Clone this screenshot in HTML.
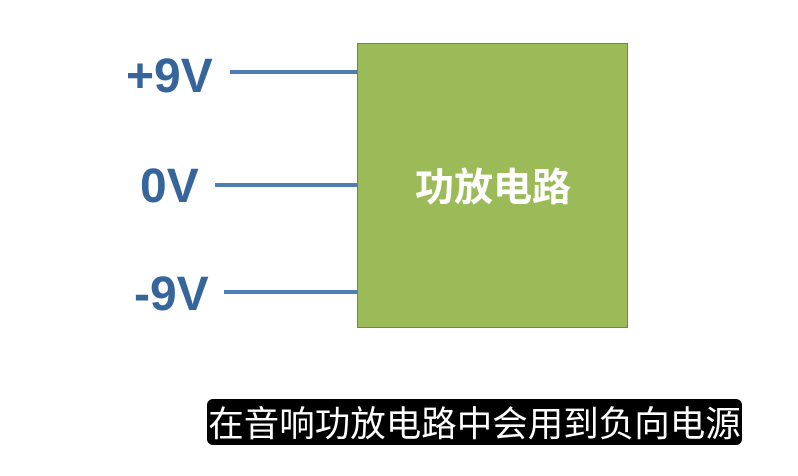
<!DOCTYPE html>
<html><head><meta charset="utf-8"><style>
body{margin:0;width:798px;height:476px;background:#fff;position:relative;overflow:hidden;font-family:"Liberation Sans","Noto Sans CJK SC",sans-serif}
.l{position:absolute;height:4px;background:#4f7db5}
.t{position:absolute;font-weight:bold;color:#36659b;font-size:48px;line-height:1}
</style></head><body>
<div style="position:absolute;left:357px;top:43px;width:269px;height:283px;background:#9bbb59;border:1.5px solid #6f8a3c"></div>
<div style="position:absolute;left:357px;top:160px;width:272px;text-align:center;color:#fff;font-weight:bold;font-size:39px;line-height:50px;font-family:'Noto Sans CJK SC',sans-serif">功放电路</div>
<div class="l" style="left:230px;top:70px;width:128px"></div>
<div class="l" style="left:215px;top:183px;width:143px"></div>
<div class="l" style="left:224px;top:290px;width:134px"></div>
<div class="t" style="left:126px;top:53px">+9V</div>
<div class="t" style="left:140px;top:163px">0V</div>
<div class="t" style="left:134px;top:271px">-9V</div>
<div style="position:absolute;left:207px;top:399px;width:535px;height:46px;background:#000;border-radius:6px;color:#fff;font-size:35.5px;line-height:46px;text-align:center;white-space:nowrap;font-family:'Noto Sans CJK SC',sans-serif">在音响功放电路中会用到负向电源</div>
</body></html>
